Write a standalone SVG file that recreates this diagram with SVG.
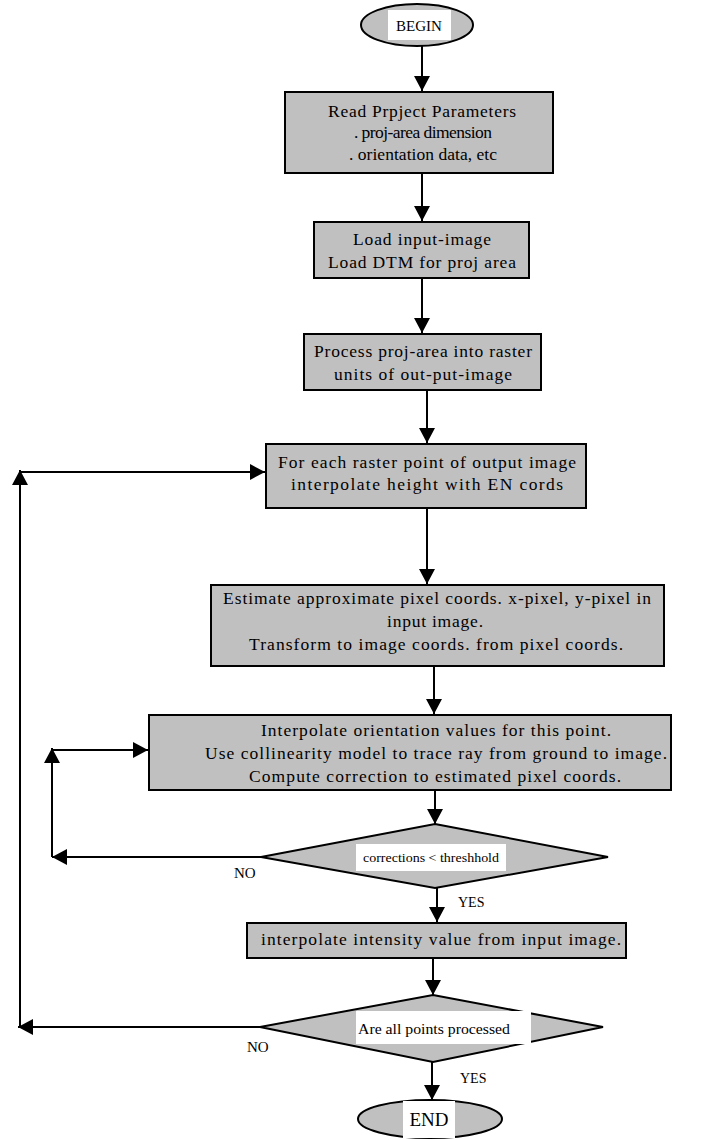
<svg xmlns="http://www.w3.org/2000/svg" width="711" height="1140" viewBox="0 0 711 1140">
  <style>
    .box { fill: #c0c0c0; stroke: #000; stroke-width: 2; }
    .lbl { fill: #fff; stroke: none; }
    text { font-family: 'Liberation Serif', 'DejaVu Serif', 'Times New Roman', serif; fill: #000; }
    .t { font-size: 17.5px; }
    .c { text-anchor: middle; }
    .ln { fill: none; stroke: #000; stroke-width: 2; }
  </style>
  <defs>
    <marker id="ah" markerUnits="userSpaceOnUse" markerWidth="16" markerHeight="16" refX="15" refY="8" orient="auto">
      <path d="M0,0 L15,8 L0,16 z" fill="#000"/>
    </marker>
  </defs>
  <rect width="711" height="1140" fill="#fff"/>

  <g id="connectors">
    <path class="ln" d="M422 46 V91" marker-end="url(#ah)"/>
    <path class="ln" d="M422 173 V221" marker-end="url(#ah)"/>
    <path class="ln" d="M422 278 V333" marker-end="url(#ah)"/>
    <path class="ln" d="M427 390 V443" marker-end="url(#ah)"/>
    <path class="ln" d="M427 508 V584" marker-end="url(#ah)"/>
    <path class="ln" d="M434 666 V714" marker-end="url(#ah)"/>
    <path class="ln" d="M435 790 V824" marker-end="url(#ah)"/>
    <path class="ln" d="M437 888 V922" marker-end="url(#ah)"/>
    <path class="ln" d="M433 958 V995" marker-end="url(#ah)"/>
    <path class="ln" d="M432 1062 V1100" marker-end="url(#ah)"/>
    <!-- inner loop: corrections not below threshold -->
    <path class="ln" d="M261 857 H52" marker-end="url(#ah)"/>
    <path class="ln" d="M52 857 V748" marker-end="url(#ah)"/>
    <path class="ln" d="M52 750 H148" marker-end="url(#ah)"/>
    <!-- outer loop: more raster points left -->
    <path class="ln" d="M260 1027 H18" marker-end="url(#ah)"/>
    <path class="ln" d="M20 1027 V470" marker-end="url(#ah)"/>
    <path class="ln" d="M20 472 H265" marker-end="url(#ah)"/>
    <text x="234" y="878" style="font-size:15px">NO</text>
    <text x="458" y="907" style="font-size:14px">YES</text>
    <text x="247" y="1052" style="font-size:15px">NO</text>
    <text x="460" y="1083" style="font-size:14px">YES</text>
  </g>

  <g id="begin">
    <ellipse class="box" cx="417" cy="25" rx="56" ry="21"/>
    <rect class="lbl" x="388" y="10" width="63" height="30"/>
    <text class="c" x="419" y="31" style="font-size:15px">BEGIN</text>
  </g>

  <g id="read-params">
    <rect class="box" x="285" y="92" width="268" height="81"/>
    <text class="t c" x="422" y="117" textLength="188" lengthAdjust="spacing">Read Prpject Parameters</text>
    <text class="t c" x="423" y="138" textLength="138" lengthAdjust="spacing">. proj-area dimension</text>
    <text class="t c" x="423" y="160" textLength="148" lengthAdjust="spacing">. orientation data, etc</text>
  </g>

  <g id="load-data">
    <rect class="box" x="314" y="222" width="215" height="56"/>
    <text class="t c" x="422" y="245" textLength="138" lengthAdjust="spacing">Load input-image</text>
    <text class="t c" x="422" y="268" textLength="188" lengthAdjust="spacing">Load DTM for proj area</text>
  </g>

  <g id="raster-units">
    <rect class="box" x="304" y="334" width="237" height="56"/>
    <text class="t c" x="423" y="357" textLength="218" lengthAdjust="spacing">Process proj-area into raster</text>
    <text class="t c" x="423" y="380" textLength="178" lengthAdjust="spacing">units of out-put-image</text>
  </g>

  <g id="raster-point">
    <rect class="box" x="266" y="444" width="320" height="64"/>
    <text class="t c" x="427" y="468" textLength="298" lengthAdjust="spacing">For each raster point of output image</text>
    <text class="t c" x="427" y="490" textLength="272" lengthAdjust="spacing">interpolate height with EN cords</text>
  </g>

  <g id="estimate">
    <rect class="box" x="211" y="585" width="453" height="81"/>
    <text class="t c" x="437" y="604" textLength="428" lengthAdjust="spacing">Estimate approximate pixel coords. x-pixel, y-pixel in</text>
    <text class="t c" x="435" y="627" textLength="96" lengthAdjust="spacing">input image.</text>
    <text class="t c" x="436" y="650" textLength="374" lengthAdjust="spacing">Transform to image coords. from pixel coords.</text>
  </g>

  <g id="collinearity">
    <rect class="box" x="149" y="715" width="522" height="75"/>
    <text class="t c" x="436" y="736" textLength="350" lengthAdjust="spacing">Interpolate orientation values for this point.</text>
    <text class="t c" x="436" y="759" textLength="462" lengthAdjust="spacing">Use collinearity model to trace ray from ground to image.</text>
    <text class="t c" x="435" y="782" textLength="372" lengthAdjust="spacing">Compute correction to estimated pixel coords.</text>
  </g>

  <g id="threshold-test">
    <polygon class="box" points="435,824 608,857 435,888 261,857"/>
    <rect class="lbl" x="356" y="844" width="150" height="27"/>
    <text class="c" x="431" y="862" style="font-size:13px" textLength="136" lengthAdjust="spacingAndGlyphs">corrections &lt; threshhold</text>
  </g>

  <g id="intensity">
    <rect class="box" x="247" y="923" width="379" height="35"/>
    <text class="t c" x="441" y="945" textLength="360" lengthAdjust="spacing">interpolate intensity value from input image.</text>
  </g>

  <g id="all-done-test">
    <polygon class="box" points="433,995 603,1027 433,1062 260,1027"/>
    <rect class="lbl" x="356" y="1011" width="175" height="33"/>
    <text class="c" x="434" y="1034" style="font-size:15px" textLength="152" lengthAdjust="spacingAndGlyphs">Are all points processed</text>
  </g>

  <g id="end">
    <ellipse class="box" cx="430" cy="1119" rx="72" ry="19"/>
    <rect class="lbl" x="403" y="1101" width="52" height="37"/>
    <text class="c" x="429" y="1126" style="font-size:19px">END</text>
  </g>
</svg>
